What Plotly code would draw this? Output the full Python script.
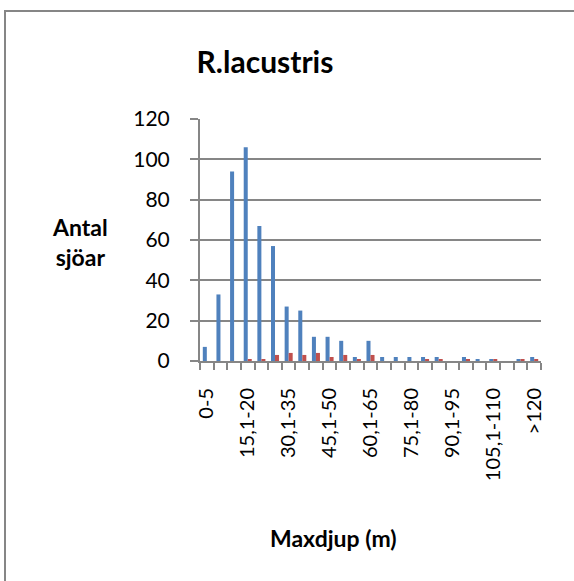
import plotly.graph_objects as go

categories = ["0-5", "5,1-10", "10,1-15", "15,1-20", "20,1-25", "25,1-30", "30,1-35",
              "35,1-40", "40,1-45", "45,1-50", "50,1-55", "55,1-60", "60,1-65", "65,1-70",
              "70,1-75", "75,1-80", "80,1-85", "85,1-90", "90,1-95", "95,1-100",
              "100,1-105", "105,1-110", "110,1-115", "115,1-120", ">120"]
blue_values = [7, 33, 94, 106, 67, 57, 27, 25, 12, 12, 10, 2, 10, 2, 2, 2, 2, 2, 0, 2, 1, 1, 0, 1, 2]
red_values = [0, 0, 0, 1, 1, 3, 4, 3, 4, 2, 3, 1, 3, 0, 0, 0, 1, 1, 0, 1, 0, 1, 0, 1, 1]
y_ticks = [0, 20, 40, 60, 80, 100, 120]

W, H = 574, 581
L, R, T, B = 200, 541, 119, 361

def px_x(p):
    return (p - L) / (R - L)

def px_y(p):
    return (B - p) / (B - T)

xs = list(range(len(categories)))
grid = "#868686"
font = "Lato, 'Open Sans', sans-serif"

fig = go.Figure()
fig.add_trace(go.Bar(x=xs, y=blue_values, marker=dict(color="#4F81BD", line=dict(width=0)), name="A"))
fig.add_trace(go.Bar(x=xs, y=red_values, marker=dict(color="#C0504D", line=dict(width=0)), name="B"))

fig.update_layout(
    width=W, height=H,
    margin=dict(l=L, r=W - R, t=T, b=H - B, pad=0),
    paper_bgcolor="white", plot_bgcolor="white",
    showlegend=False,
    barmode="group", bargap=0.41, bargroupgap=0,
    font=dict(family=font, color="black"),
    title=dict(text="<b>R.lacustris</b>", x=265 / W, xanchor="center", xref="container",
               y=1 - 62 / H, yanchor="middle", yref="container",
               font=dict(family=font, size=30, color="black")),
)

fig.update_xaxes(
    range=[-0.5, len(categories) - 0.5],
    tickmode="array", tickvals=xs[::3], ticktext=categories[::3],
    tickangle=-90, ticks="", showgrid=False,
    showline=True, linecolor=grid, linewidth=2,
    tickfont=dict(family=font, size=20, color="black"),
    ticklabelstandoff=17,
    minor=dict(ticks="outside", tickmode="linear", tick0=0.5, dtick=1, ticklen=7,
               tickcolor=grid, tickwidth=2, showgrid=False),
    zeroline=False,
)
fig.update_yaxes(
    range=[0, 120], tickmode="array", tickvals=y_ticks,
    ticks="outside", ticklen=8, tickcolor=grid, tickwidth=2,
    showgrid=True, gridcolor=grid, gridwidth=2,
    showline=True, linecolor=grid, linewidth=2,
    tickfont=dict(family=font, size=21, color="black"),
    ticklabelstandoff=16,
    zeroline=False,
)

# outer chart frame
fig.add_shape(type="rect", xref="paper", yref="paper",
              x0=px_x(5), x1=px_x(W + 20), y0=px_y(H + 20), y1=px_y(11),
              line=dict(color=grid, width=2), layer="below")

fig.add_annotation(text="<b>Antal<br>sjöar</b>", xref="paper", yref="paper",
                   x=px_x(80), y=px_y(242), showarrow=False, xanchor="center", yanchor="middle",
                   font=dict(family=font, size=23, color="black"), align="center")
fig.add_annotation(text="<b>Maxdjup (m)</b>", xref="paper", yref="paper",
                   x=px_x(333), y=px_y(538), showarrow=False, xanchor="center", yanchor="middle",
                   font=dict(family=font, size=23, color="black"))

fig.write_html("out.html", config={"displayModeBar": False},
               post_script="document.body.style.margin='0';document.body.style.overflow='hidden';")
